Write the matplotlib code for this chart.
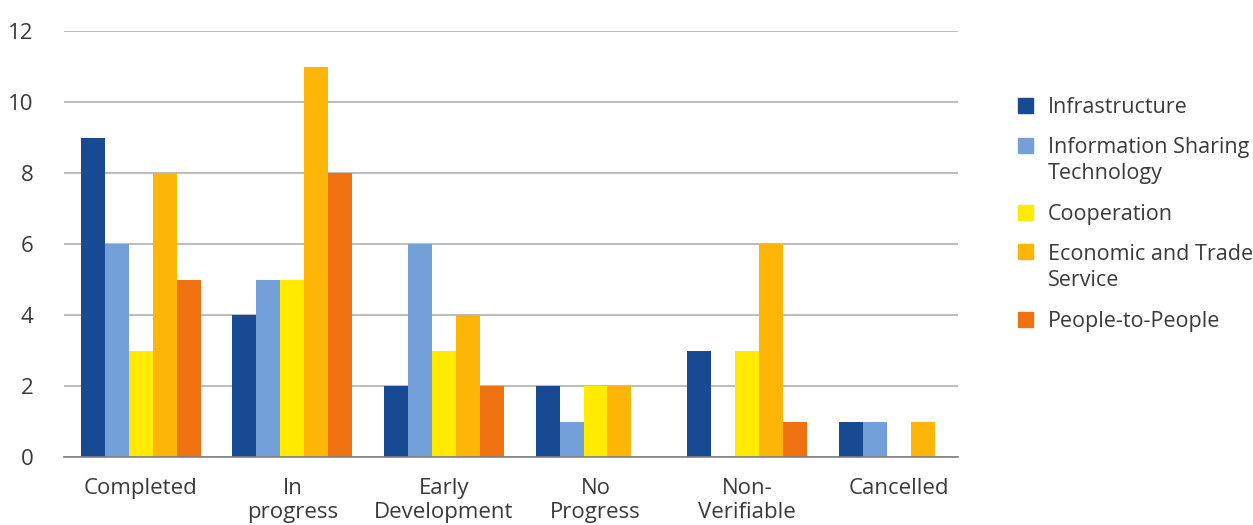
import matplotlib.pyplot as plt
from matplotlib.patches import Rectangle
import numpy as np

plt.rcParams['font.family'] = ['Open Sans', 'DejaVu Sans']

categories = ["Completed", "In\nprogress", "Early\nDevelopment", "No\nProgress", "Non-\nVerifiable", "Cancelled"]
series = ["Infrastructure", "Information Sharing\nTechnology", "Cooperation",
          "Economic and Trade\nService", "People-to-People"]
infrastructure = [9, 4, 2, 2, 3, 1]
info_sharing = [6, 5, 6, 1, 0, 1]
cooperation = [3, 5, 3, 2, 3, 0]
economic_trade = [8, 11, 4, 2, 6, 1]
people = [5, 8, 2, 0, 1, 0]
values = [infrastructure, info_sharing, cooperation, economic_trade, people]
colors = ["#184a93", "#74a0d9", "#ffea00", "#fdb508", "#f07110"]
text_color = '#3a3a3a'

W, H = 1253, 525
fig = plt.figure(figsize=(W / 100, H / 100), dpi=100)
ax = fig.add_axes([64 / W, 1 - 457 / H, 894 / W, 426 / H])

x = np.arange(len(categories))
w = 0.158
for i, (vals, c, name) in enumerate(zip(values, colors, series)):
    ax.bar(x + (i - 2) * w, vals, w, color=c, label=name, zorder=3)

ax.set_xlim(-0.506, 5.391)
ax.set_ylim(0, 12)
ax.set_yticks(range(0, 13, 2))
ax.grid(axis='y', color='#b0b0b0', linewidth=1.2, zorder=0)
for s in ['top', 'right', 'left']:
    ax.spines[s].set_visible(False)
ax.spines['bottom'].set_color('#7f7f7f')
ax.spines['bottom'].set_linewidth(1.2)
ax.spines['bottom'].set_zorder(4)
ax.set_xticks(x)
ax.set_xticklabels(categories, fontsize=16, color=text_color, linespacing=1.2)
ax.tick_params(axis='x', length=0, pad=15)
ax.tick_params(axis='y', length=0, pad=22, labelsize=16, labelcolor=text_color)

# legend drawn by hand so the swatch lines up with the first text line
y = 105
for name, c in zip(series, colors):
    fig.patches.append(Rectangle((1018 / W, 1 - (y + 7.5) / H), 15 / W, 15 / H,
                                 transform=fig.transFigure, color=c))
    fig.text(1048 / W, 1 - (y - 8) / H, name, fontsize=15.5, color=text_color,
             va='top', ha='left', linespacing=1.33)
    y += (name.count('\n')) * 27 + 40

fig.savefig("out.png", dpi=100)
